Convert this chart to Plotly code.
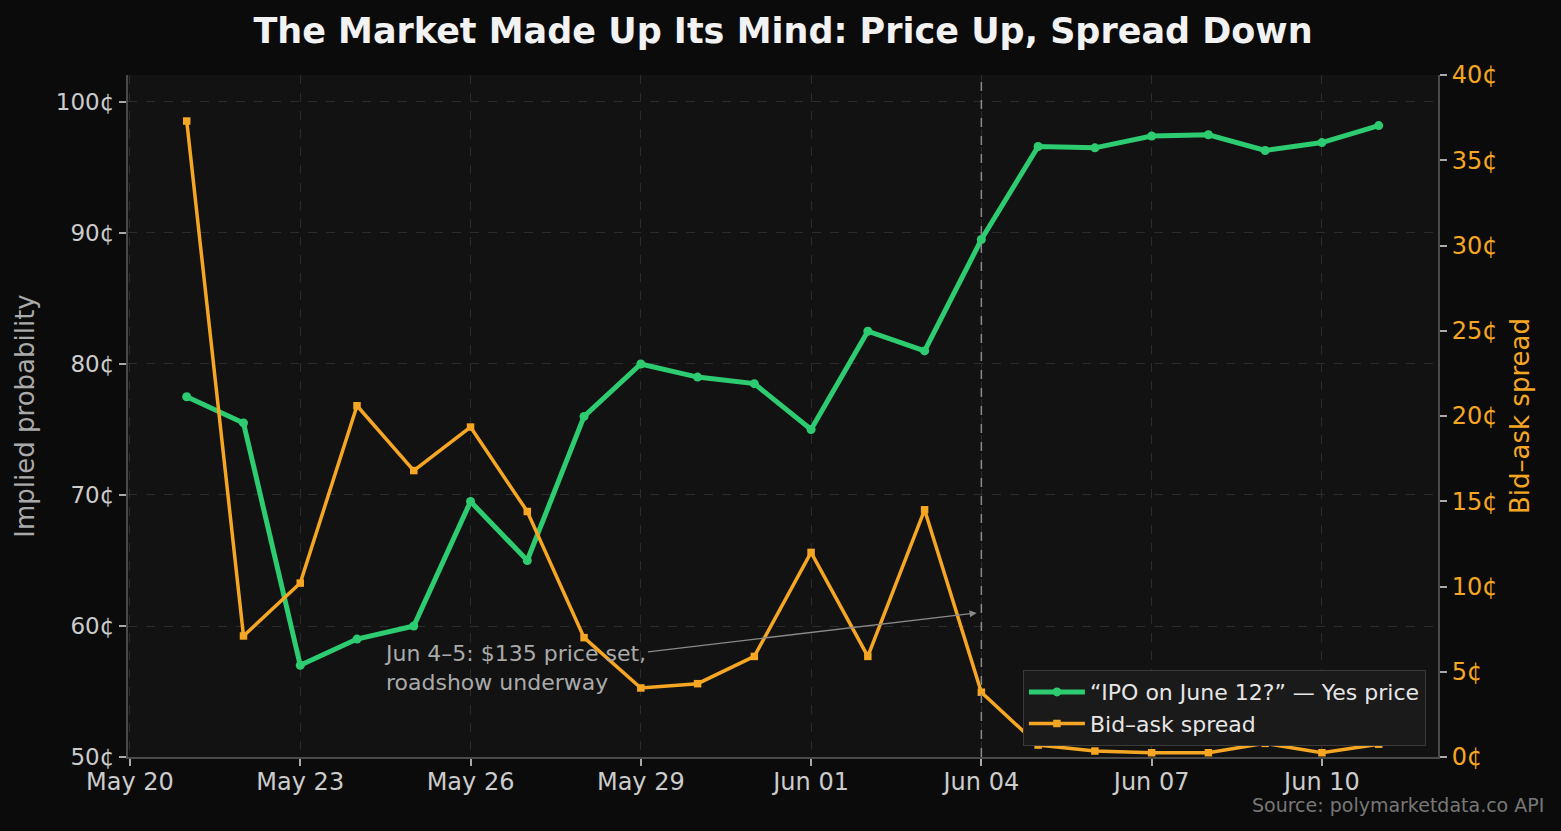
import plotly.graph_objects as go

dates = ["2025-05-21", "2025-05-22", "2025-05-23", "2025-05-24", "2025-05-25", "2025-05-26",
         "2025-05-27", "2025-05-28", "2025-05-29", "2025-05-30", "2025-05-31", "2025-06-01",
         "2025-06-02", "2025-06-03", "2025-06-04", "2025-06-05", "2025-06-06", "2025-06-07",
         "2025-06-08", "2025-06-09", "2025-06-10", "2025-06-11"]
yes_price = [77.5, 75.5, 57.0, 59.0, 60.0, 69.5, 65.0, 76.0, 80.0, 79.0, 78.5, 75.0,
             82.5, 81.0, 89.5, 96.6, 96.5, 97.4, 97.5, 96.3, 96.9, 98.2]
spread = [37.3, 7.1, 10.2, 20.6, 16.8, 19.35, 14.4, 7.0, 4.05, 4.3, 5.9, 12.0,
          5.9, 14.5, 3.8, 0.7, 0.35, 0.25, 0.25, 0.8, 0.25, 0.75]
left_ticks = [50, 60, 70, 80, 90, 100]
right_ticks = [0, 5, 10, 15, 20, 25, 30, 35, 40]
x_ticks = ["2025-05-20", "2025-05-23", "2025-05-26", "2025-05-29", "2025-06-01",
           "2025-06-04", "2025-06-07", "2025-06-10"]

GREEN = "#2ecc71"
ORANGE = "#f5a623"
FONT = "DejaVu Sans"

fig = go.Figure()
fig.add_trace(go.Scatter(
    x=dates, y=yes_price, mode="lines+markers", name="“IPO on June 12?” — Yes price",
    line=dict(color=GREEN, width=5), marker=dict(symbol="circle", size=9, color=GREEN),
    yaxis="y"))
fig.add_trace(go.Scatter(
    x=dates, y=spread, mode="lines+markers", name="Bid–ask spread",
    line=dict(color=ORANGE, width=3.5), marker=dict(symbol="square", size=7.5, color=ORANGE),
    yaxis="y2"))

fig.add_shape(type="line", xref="x", yref="paper", x0="2025-06-04", x1="2025-06-04",
              y0=0, y1=1, line=dict(color="#8a8a8a", width=1.5, dash="dash"), layer="above")

fig.add_annotation(
    x="2025-06-03 22:00", y=61.0, xref="x", yref="y",
    ax="2025-05-26 19:00", ay=56.83, axref="x", ayref="y",
    text="Jun 4–5: $135 price set,<br>roadshow underway", align="left",
    showarrow=True, arrowhead=2, arrowsize=1, arrowwidth=1.4, arrowcolor="#8a8a8a",
    font=dict(family=FONT, size=22, color="#aaaaaa"), standoff=0, startstandoff=0)

fig.add_annotation(
    x=1.0824, y=-0.0704, xref="paper", yref="paper", xanchor="right", yanchor="middle",
    text="Source: polymarketdata.co API", showarrow=False,
    font=dict(family=FONT, size=19, color="#777777"))

fig.update_layout(
    width=1561, height=831,
    paper_bgcolor="#0b0b0b", plot_bgcolor="#121212",
    margin=dict(l=128, r=123, t=75, b=74),
    font=dict(family=FONT, color="#cccccc"),
    title=dict(text="<b>The Market Made Up Its Mind: Price Up, Spread Down</b>",
               x=0.5, xref="paper", y=1 - 31 / 831, yref="container", yanchor="middle",
               xanchor="center", font=dict(family=FONT, size=35, color="#f2f2f2")),
    showlegend=True,
    legend=dict(x=0.9908, y=0.016, xanchor="right", yanchor="bottom",
                bgcolor="#1a1a1a", bordercolor="#3a3a3a", borderwidth=1,
                font=dict(family=FONT, size=22, color="#e6e6e6"), itemwidth=56),
    xaxis=dict(type="date", range=["2025-05-19 23:10", "2025-06-12 01:05"],
               tickvals=x_ticks, tickformat="%b %d",
               tickfont=dict(family=FONT, size=24, color="#cccccc"),
               ticklabelstandoff=-5,
               showgrid=True, gridcolor="#2c2c2c", griddash="dash", gridwidth=1,
               showline=True, linecolor="#4a4a4a", linewidth=2,
               ticks="outside", ticklen=7, tickcolor="#aaaaaa", tickwidth=1.5,
               zeroline=False),
    yaxis=dict(range=[50, 102.06], tickvals=left_ticks,
               ticktext=[f"{v}¢" for v in left_ticks],
               tickfont=dict(family=FONT, size=23, color="#cccccc"),
               title=dict(text="Implied probability",
                          font=dict(family=FONT, size=26, color="#aaaaaa"), standoff=14),
               showgrid=True, gridcolor="#2c2c2c", griddash="dash", gridwidth=1,
               showline=True, linecolor="#4a4a4a", linewidth=2,
               ticks="outside", ticklen=7, tickcolor="#aaaaaa", tickwidth=1.5,
               zeroline=False),
    yaxis2=dict(range=[0, 40], tickvals=right_ticks,
                ticktext=[f"{v}¢" for v in right_ticks],
                overlaying="y", side="right",
                tickfont=dict(family=FONT, size=24, color=ORANGE),
                title=dict(text="Bid–ask spread",
                           font=dict(family=FONT, size=26, color=ORANGE), standoff=14),
                showgrid=False, showline=True, linecolor="#4a4a4a", linewidth=2,
                ticks="outside", ticklen=7, tickcolor="#aaaaaa", tickwidth=1.5,
                zeroline=False),
)

fig.write_html("out.html")
